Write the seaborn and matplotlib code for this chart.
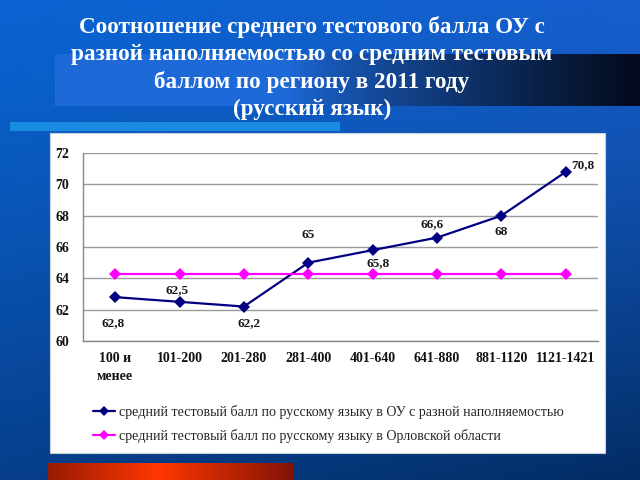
import numpy as np
import pandas as pd
import matplotlib
matplotlib.use("Agg")
import matplotlib.pyplot as plt
from matplotlib.patches import Rectangle
from matplotlib.lines import Line2D
import seaborn as sns

# ---- data ----
categories = ["100 и\nменее", "101-200", "201-280", "281-400",
              "401-640", "641-880", "881-1120", "1121-1421"]
school_scores = [62.8, 62.5, 62.2, 65.0, 65.8, 66.6, 68.0, 70.8]
region_scores = [64.3] * 8
school_labels = ["62,8", "62,5", "62,2", "65", "65,8", "66,6", "68", "70,8"]
series_names = ["средний тестовый балл по русскому языку в ОУ с разной наполняемостью",
                "средний тестовый балл по русскому языку в Орловской области"]
title = ("Соотношение среднего тестового балла ОУ с\n"
         "разной наполняемостью со средним тестовым\n"
         "баллом по региону в 2011 году\n"
         "(русский язык)")
yticks = [60, 62, 64, 66, 68, 70, 72]

# label offsets in pixels (dx, dy)
label_offsets = [(-2, -26), (-3, 12), (5, -17), (0, 28),
                 (5, -13), (-5, 13), (0, -16), (17, 7)]

sns.set_theme(style="white")
plt.rcParams['font.family'] = ['Liberation Serif', 'DejaVu Serif']

W, H = 640, 480
fig = plt.figure(figsize=(6.4, 4.8), dpi=100)

# ---- slide background ----
bg_ax = fig.add_axes([0, 0, 1, 1], zorder=0)
bg_ax.set_axis_off()
xs = np.linspace(0, 1, W)[None, :, None]
ys = (np.linspace(0, 1, H)[:, None, None]) ** 1.2
left_top = np.array([10, 100, 210]) / 255
right_top = np.array([22, 95, 205]) / 255
left_bot = np.array([6, 62, 138]) / 255
right_bot = np.array([2, 45, 100]) / 255
top = left_top * (1 - xs) + right_top * xs
bot = left_bot * (1 - xs) + right_bot * xs
img = top * (1 - ys) + bot * ys
# dark band
band_y0, band_y1, band_x0 = 54, 106, 55
bx = np.linspace(0, 1, W - band_x0)
t = np.clip((bx - 0.4) / 0.6, 0, 1) ** 0.8
band_left = np.array([28, 105, 215]) / 255
band_right = np.array([4, 10, 28]) / 255
band = band_left[None, :] * (1 - t[:, None]) + band_right[None, :] * t[:, None]
img[band_y0:band_y1, band_x0:, :] = band[None, :, :]
# light blue bar
img[122:131, 10:340, :] = np.array([25, 140, 225]) / 255
# red bar
rx = np.linspace(-1, 1, 293 - 48)
shift = (rx + 0.1)
tr = np.clip(np.abs(shift) / 1.1, 0, 1)
red_c = np.array([255, 55, 0]) / 255
red_e = np.array([130, 20, 5]) / 255
red = red_c[None, :] * (1 - tr[:, None]) + red_e[None, :] * tr[:, None]
img[463:480, 48:293, :] = red[None, :, :]
# white panel
img[133:453, 50:605, :] = 1.0
bg_ax.imshow(img, extent=[0, W, H, 0], aspect='auto', zorder=0,
             interpolation='nearest')
bg_ax.add_patch(Rectangle((50, 133), 555, 320, facecolor="none",
                          edgecolor="#c8d0d8", lw=0.8))
bg_ax.set_xlim(0, W)
bg_ax.set_ylim(H, 0)

# title
fig.text(312 / W, 1 - 16 / H, title, ha="center", va="top", color="white",
         fontsize=16.7, fontweight="bold", linespacing=1.36,
         family=['Liberation Serif', 'DejaVu Serif'], zorder=5)

# ---- chart ----
ax_l, ax_r, ax_t, ax_b = 83, 598, 153, 341
ax = fig.add_axes([ax_l / W, 1 - ax_b / H, (ax_r - ax_l) / W, (ax_b - ax_t) / H],
                  zorder=2)
ax.set_facecolor("none")

df = pd.DataFrame({
    "x": list(range(len(categories))) * 2,
    "value": school_scores + region_scores,
    "series": [series_names[0]] * len(categories) + [series_names[1]] * len(categories),
})
palette = {series_names[0]: "#000080", series_names[1]: "#ff00ff"}
sns.lineplot(data=df, x="x", y="value", hue="series", palette=palette,
             marker="D", markersize=6, markeredgewidth=0, linewidth=1.6,
             ax=ax, legend=False, zorder=3)

for i, (v, lab) in enumerate(zip(school_scores, school_labels)):
    dx, dy = label_offsets[i]
    ax.annotate(lab, (i, v), xytext=(dx, dy), textcoords="offset pixels",
                ha="center", va="center", fontsize=9.5, fontweight="bold",
                color="#1a1a1a")

ax.set_xlim(-0.5, len(categories) - 0.5)
ax.set_ylim(60, 72)
ax.set_yticks(yticks)
ax.set_yticklabels([str(v) for v in yticks], fontsize=10, fontweight="bold")
ax.set_xticks(range(len(categories)))
ax.set_xticklabels(categories, fontsize=10, fontweight="bold", linespacing=1.45)
ax.set_xticks(np.arange(-0.5, len(categories), 1), minor=True)
ax.tick_params(axis="x", which="major", length=0, pad=8, colors="#111111")
ax.tick_params(axis="x", which="minor", length=5, color="#888888", direction="out")
ax.tick_params(axis="y", length=5, color="#888888", direction="out", pad=5,
               labelcolor="#111111")
ax.grid(axis="y", color="#9a9a9a", lw=1)
ax.set_axisbelow(True)
for s in ["top", "right"]:
    ax.spines[s].set_visible(False)
for s in ["left", "bottom"]:
    ax.spines[s].set_color("#888888")
    ax.spines[s].set_linewidth(1)
ax.set_xlabel("")
ax.set_ylabel("")

# legend
handles = [Line2D([0], [0], color=palette[n], marker="D", markersize=5,
                  markeredgewidth=0, lw=1.6) for n in series_names]
leg = fig.legend(handles, series_names, loc="upper left",
                 bbox_to_anchor=(87 / W, 1 - 399 / H), frameon=False,
                 fontsize=10.05, handlelength=1.6, handletextpad=0.3,
                 labelspacing=0.74, borderaxespad=0)
leg.set_zorder(5)

fig.savefig("out.png", dpi=100)
